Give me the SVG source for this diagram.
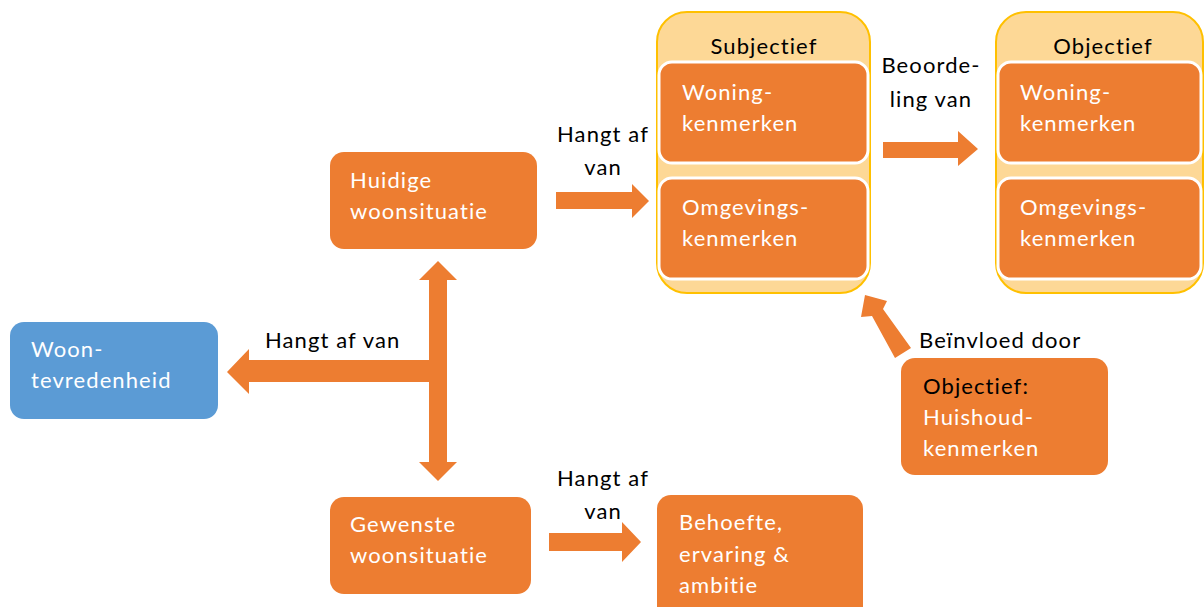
<svg xmlns="http://www.w3.org/2000/svg" width="1204" height="607" viewBox="0 0 1204 607">
<style>
text{font-family:Lato,"Open Sans","Liberation Sans",sans-serif;font-size:22px;letter-spacing:1.1px}
.w{fill:#ffffff}
.k{fill:#000000}
.c{text-anchor:middle}
.box{fill:#ED7D31}
.blue{fill:#5B9BD5}
.cont{fill:#FDD896;stroke:#FFC000;stroke-width:2}
.inner{fill:#ED7D31;stroke:#ffffff;stroke-width:3}
.arr{fill:#ED7D31}
</style>
<rect width="1204" height="607" fill="#ffffff"/>
<g id="subjectief">
<rect class="cont" x="657" y="12" width="213" height="281" rx="30"/>
<text class="k c" x="764" y="54">Subjectief</text>
<rect class="inner" x="659" y="62" width="209" height="101" rx="13"/>
<text class="w" x="682" y="100">Woning-</text>
<text class="w" x="682" y="131">kenmerken</text>
<rect class="inner" x="659" y="178" width="209" height="101" rx="13"/>
<text class="w" x="682" y="215">Omgevings-</text>
<text class="w" x="682" y="246">kenmerken</text>
</g>
<g id="objectief">
<rect class="cont" x="996" y="12" width="207" height="281" rx="30"/>
<text class="k c" x="1103" y="54">Objectief</text>
<rect class="inner" x="998" y="62" width="203" height="101" rx="13"/>
<text class="w" x="1020" y="100">Woning-</text>
<text class="w" x="1020" y="131">kenmerken</text>
<rect class="inner" x="998" y="178" width="203" height="101" rx="13"/>
<text class="w" x="1020" y="215">Omgevings-</text>
<text class="w" x="1020" y="246">kenmerken</text>
</g>
<g id="huidige">
<rect class="box" x="330" y="152" width="207" height="97" rx="14"/>
<text class="w" x="350" y="188">Huidige</text>
<text class="w" x="350" y="219">woonsituatie</text>
</g>
<g id="gewenste">
<rect class="box" x="330" y="497" width="201" height="97" rx="14"/>
<text class="w" x="350" y="532">Gewenste</text>
<text class="w" x="350" y="563">woonsituatie</text>
</g>
<g id="behoefte">
<rect class="box" x="657" y="495" width="206" height="125" rx="14"/>
<text class="w" x="679" y="530">Behoefte,</text>
<text class="w" x="679" y="562">ervaring &amp;</text>
<text class="w" x="679" y="593">ambitie</text>
</g>
<g id="woontevredenheid">
<rect class="blue" x="10" y="322" width="208" height="97" rx="14"/>
<text class="w" x="31" y="357">Woon-</text>
<text class="w" x="31" y="388">tevredenheid</text>
</g>
<g id="huishoud">
<rect class="box" x="901" y="358" width="207" height="117" rx="14"/>
<text class="k" x="923" y="394">Objectief:</text>
<text class="w" x="923" y="425">Huishoud-</text>
<text class="w" x="923" y="456">kenmerken</text>
</g>
<g id="connectors">
<polygon class="arr" points="556,192 632,192 632,184 649,201 632,218 632,209 556,209"/>
<polygon class="arr" points="549,533 622,533 622,522 641,542 622,562 622,551 549,551"/>
<polygon class="arr" points="883,142 958,142 958,131 978,149 958,166 958,158 883,158"/>
<polygon class="arr" points="429,280 419,280 438,261 457,280 447,280 447,462 457,462 438,481 419,462 429,462"/>
<polygon class="arr" points="430,360 249,360 249,349 227,372 249,394 249,382 430,382"/>
<polygon class="arr" points="865,295 887,301 883,309 911,348 895,358 872,316 861,317"/>
</g>
<g id="labels">
<text class="k c" x="603" y="142">Hangt af</text>
<text class="k c" x="603" y="175">van</text>
<text class="k c" x="603" y="486">Hangt af</text>
<text class="k c" x="603" y="519">van</text>
<text class="k c" x="931" y="73">Beoorde-</text>
<text class="k c" x="931" y="107">ling van</text>
<text class="k" x="265" y="348">Hangt af van</text>
<text class="k" x="919" y="348">Beïnvloed door</text>
</g>
</svg>
